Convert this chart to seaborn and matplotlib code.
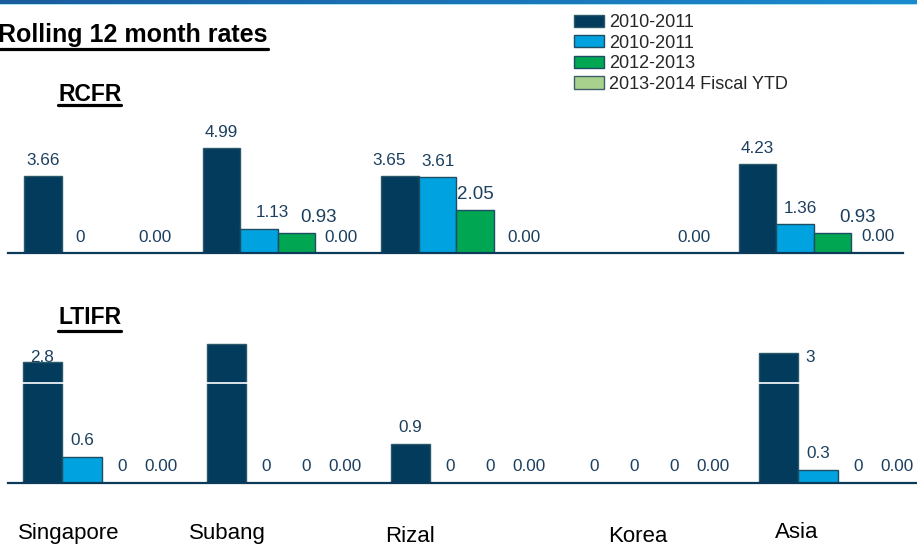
import numpy as np
import pandas as pd
import matplotlib
matplotlib.use("Agg")
import matplotlib.pyplot as plt
import seaborn as sns
from matplotlib.patches import Patch
from matplotlib.lines import Line2D
from matplotlib.transforms import blended_transform_factory

# ---------------- data ----------------
sites = ["Singapore", "Subang", "Rizal", "Korea", "Asia"]
series_labels = ["2010-2011", "2010-2011", "2012-2013", "2013-2014 Fiscal YTD"]
series_keys = ["s1", "s2", "s3", "s4"]

rcfr_s1 = [3.66, 4.99, 3.65, 0.0, 4.23]
rcfr_s2 = [0.0, 1.13, 3.61, 0.0, 1.36]
rcfr_s3 = [0.0, 0.93, 2.05, 0.0, 0.93]
rcfr_s4 = [0.0, 0.0, 0.0, 0.0, 0.0]

ltifr_s1 = [2.8, 3.2, 0.9, 0.0, 3.0]
ltifr_s2 = [0.6, 0.0, 0.0, 0.0, 0.3]
ltifr_s3 = [0.0, 0.0, 0.0, 0.0, 0.0]
ltifr_s4 = [0.0, 0.0, 0.0, 0.0, 0.0]

rcfr_text = [["3.66", "0", "", "0.00"],
             ["4.99", "1.13", "0.93", "0.00"],
             ["3.65", "3.61", "2.05", "0.00"],
             ["", "", "", "0.00"],
             ["4.23", "1.36", "0.93", "0.00"]]
ltifr_text = [["2.8", "0.6", "0", "0.00"],
              ["", "0", "0", "0.00"],
              ["0.9", "0", "0", "0.00"],
              ["0", "0", "0", "0.00"],
              ["3", "0.3", "0", "0.00"]]
ltifr_ref = 2.31

# ---------------- styles ----------------
fills = ["#023B5C", "#00A2DF", "#00A651", "#A9D18E"]
edges = ["#2C5869", "#1E4D64", "#1E4D64", "#3E5F6A"]
label_col = "#1C3F5E"
axis_col = "#0B3A5A"
PX = 0.72  # points per pixel at dpi 100

sns.set_theme(style="white")
plt.rcParams["font.family"] = ["Liberation Sans", "DejaVu Sans"]

W, H = 917, 548
fig = plt.figure(figsize=(W / 100, H / 100), dpi=100)
fig.patch.set_facecolor("white")

# top gradient band
band = fig.add_axes([0, 1 - 5 / H, 1, 5 / H])
c0 = np.array([0x1A, 0x5C, 0x9E]) / 255
c1 = np.array([0x1B, 0x8B, 0xD0]) / 255
t = np.linspace(0, 1, 256)[None, :, None]
grad = c0 + (c1 - c0) * t
grad = np.repeat(grad, 4, axis=0)
light = np.ones((1, 256, 3)) * np.array([0xA8, 0xE2, 0xF2]) / 255
band.imshow(np.concatenate([grad, light], axis=0), aspect="auto", interpolation="bilinear")
band.axis("off")


def make_df(cols):
    rows = []
    for key, vals in zip(series_keys, cols):
        for s, v in zip(sites, vals):
            rows.append({"site": s, "series": key, "value": v})
    return pd.DataFrame(rows)


def draw_panel(ax, df, width, xlim, ylim):
    sns.barplot(data=df, x="site", y="value", hue="series", order=sites,
                hue_order=series_keys, palette=dict(zip(series_keys, fills)),
                width=width, saturation=1, legend=False, ax=ax,
                errorbar=None, linewidth=1)
    for k, cont in enumerate(ax.containers):
        for bar in cont:
            bar.set_edgecolor(edges[k])
            bar.set_linewidth(1)
    ax.set_xlim(*xlim)
    ax.set_ylim(*ylim)
    for s in ["top", "left", "right"]:
        ax.spines[s].set_visible(False)
    ax.spines["bottom"].set_color(axis_col)
    ax.spines["bottom"].set_linewidth(1.6)
    ax.spines["bottom"].set_zorder(5)
    ax.set_xticks([])
    ax.set_yticks([])
    ax.set_xlabel("")
    ax.set_ylabel("")
    ax.patch.set_alpha(0)


def label_panel(ax, texts, nudges, big, dy_px):
    for k, cont in enumerate(ax.containers):
        for j, bar in enumerate(cont):
            txt = texts[j][k]
            if not txt:
                continue
            dx, ddy, z = nudges.get((j, k), (0, 0, 6))
            fs = 13.5 if (j, k) in big else 12.3
            ax.annotate(txt, (bar.get_x() + bar.get_width() / 2, bar.get_height()),
                        xytext=(dx * PX, (dy_px + ddy) * PX), textcoords="offset points",
                        ha="center", va="center", fontsize=fs, color=label_col,
                        zorder=z, annotation_clip=False)


# ---------------- RCFR panel ----------------
ax_top = fig.add_axes([8 / W, (H - 253) / H, 895 / W, 126 / H])
draw_panel(ax_top, make_df([rcfr_s1, rcfr_s2, rcfr_s3, rcfr_s4]), 0.84,
           (-0.51, 4.50), (0, 6))
top_nudges = {(1, 1): (13, 1, 6), (1, 2): (22, 0, 6), (1, 3): (7, 0, 6),
              (2, 0): (-11, 0, 6), (2, 3): (11, 0, 6), (3, 3): (3, 0, 6),
              (4, 1): (6, 0, 6), (4, 2): (25, 0, 6), (4, 3): (8, 1, 6)}
label_panel(ax_top, rcfr_text, top_nudges, {(1, 2), (2, 2), (4, 2)}, 15.5)

# ---------------- LTIFR panel ----------------
ax_bot = fig.add_axes([8 / W, (H - 482.7) / H, 909 / W, 155.5 / H])
draw_panel(ax_bot, make_df([ltifr_s1, ltifr_s2, ltifr_s3, ltifr_s4]), 0.86,
           (-0.51, 4.43), (0, 3.6))
ax_bot.axhline(ltifr_ref, color="white", lw=1.2, zorder=4)
bot_nudges = {(0, 0): (0, -12, 0.5), (4, 0): (32, -20, 6)}
label_panel(ax_bot, ltifr_text, bot_nudges, set(), 16)

# category labels
cat_offsets = [-0.18, -0.315, -0.326, -0.087, -0.223]
cat_y_px = [534, 533, 536, 536, 532]
trans = blended_transform_factory(ax_bot.transData, fig.transFigure)
for i, (s, off, ypx) in enumerate(zip(sites, cat_offsets, cat_y_px)):
    ax_bot.text(i + off, (H - ypx) / H, s, transform=trans, ha="center",
                va="center", fontsize=16, color="black")

# titles
title = fig.text(-2 / W, 1 - 35 / H, "Rolling 12 month rates", fontsize=18,
                 fontweight="bold", ha="left", va="center", color="black")
t_rcfr = fig.text(58 / W, 1 - 94 / H, "RCFR", fontsize=16.5, fontweight="bold",
                  ha="left", va="center", color="black")
t_ltifr = fig.text(58 / W, 1 - 318 / H, "LTIFR", fontsize=16.5, fontweight="bold",
                   ha="left", va="center", color="black")

# legend
handles = [Patch(facecolor=f, edgecolor=e, linewidth=1) for f, e in zip(fills, edges)]
fig.legend(handles, series_labels, loc="upper left",
           bbox_to_anchor=(574 / W, 1 - 14 / H), frameon=False, fontsize=13,
           handlelength=1.67, handleheight=0.67, handletextpad=0.25,
           labelspacing=0.2, borderpad=0, borderaxespad=0)

# underlines
fig.canvas.draw()
r = fig.canvas.get_renderer()
for txt, ypx in [(title, 48.5), (t_rcfr, 104.5), (t_ltifr, 330.5)]:
    bb = txt.get_window_extent(r)
    fig.add_artist(Line2D([max(bb.x0, 0) / W, bb.x1 / W], [1 - ypx / H] * 2,
                          transform=fig.transFigure, color="black", lw=2.3))

fig.savefig("out.png", dpi=100, facecolor="white")
